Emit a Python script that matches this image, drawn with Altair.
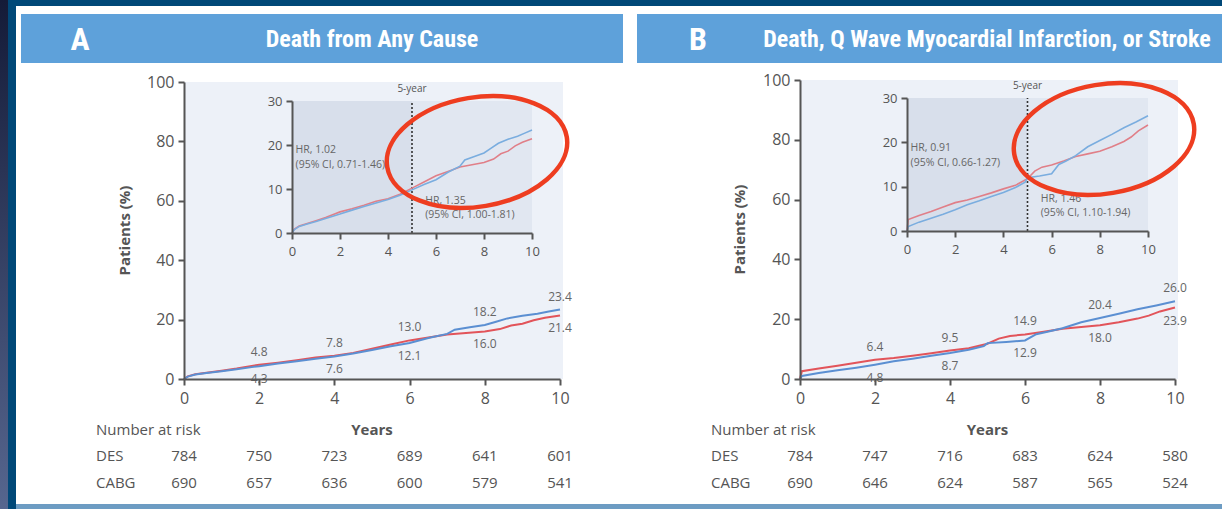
import altair as alt
import pandas as pd

W, H = 1222, 509
FONT = "Open Sans"
HEAD_FONT = "Roboto Condensed, Liberation Sans Narrow, DejaVu Sans Condensed, Roboto"
GREY = "#555555"
LABEL_GREY = "#666666"
NAVY = "#004878"
DES_COLOR = "#5b8fd2"
CABG_COLOR = "#e2545a"
DES_INSET = "#7aaddf"
CABG_INSET = "#e07f88"
RING = "#ee3d20"

# ---------------------------------------------------------------- data
years = [0, 2, 4, 6, 8, 10]

# Panel A: death from any cause, cumulative incidence (%)
a_des_t = [0, 0.1, 0.3, 0.6, 1.0, 1.4, 1.8, 2.0, 2.5, 3.0, 3.5, 4.0, 4.5, 5.0,
           5.5, 6.0, 6.5, 7.0, 7.2, 7.6, 8.0, 8.3, 8.6, 9.0, 9.4, 9.7, 10.0]
a_des_v = [0, 0.8, 1.5, 2.0, 2.6, 3.3, 4.0, 4.3, 5.2, 6.0, 6.8, 7.6, 8.6, 9.8,
           11.0, 12.1, 13.8, 15.2, 16.6, 17.4, 18.2, 19.3, 20.4, 21.3, 22.0, 22.7, 23.4]
a_cabg_t = [0, 0.1, 0.3, 0.6, 1.0, 1.4, 1.8, 2.0, 2.5, 3.0, 3.5, 4.0, 4.5, 5.0,
            5.5, 6.0, 6.5, 7.0, 7.5, 8.0, 8.4, 8.7, 9.0, 9.3, 9.6, 10.0]
a_cabg_v = [0, 0.9, 1.6, 2.1, 2.8, 3.5, 4.4, 4.8, 5.5, 6.3, 7.2, 7.8, 8.8, 10.2,
            11.6, 13.0, 14.0, 15.0, 15.5, 16.0, 16.8, 18.0, 18.6, 19.8, 20.6, 21.4]
a_label_years = [2, 4, 6, 8, 10]
a_des_labels = [4.3, 7.6, 12.1, 18.2, 23.4]
a_cabg_labels = [4.8, 7.8, 13.0, 16.0, 21.4]
a_des_risk = [784, 750, 723, 689, 641, 601]
a_cabg_risk = [690, 657, 636, 600, 579, 541]
a_hr_text = ["HR, 1.02", "(95% CI, 0.71-1.46)", "HR, 1.35", "(95% CI, 1.00-1.81)"]

# Panel B: death, Q wave MI or stroke, cumulative incidence (%)
b_des_t = [0, 0.05, 0.5, 1.0, 1.5, 2.0, 2.5, 3.0, 3.5, 4.0, 4.5, 4.9, 5.0, 5.5,
           6.0, 6.3, 6.6, 7.0, 7.5, 8.0, 8.5, 9.0, 9.5, 10.0]
b_des_v = [0, 1.0, 2.0, 2.9, 3.8, 4.8, 5.9, 6.8, 7.8, 8.7, 9.8, 11.0, 12.0, 12.4,
           12.9, 15.0, 15.8, 17.0, 19.0, 20.4, 21.8, 23.3, 24.6, 26.0]
b_cabg_t = [0, 0.05, 0.5, 1.0, 1.5, 2.0, 2.5, 3.0, 3.5, 4.0, 4.5, 5.0, 5.3, 5.6,
            6.0, 6.5, 7.0, 7.5, 8.0, 8.5, 9.0, 9.3, 9.6, 10.0]
b_cabg_v = [0, 2.6, 3.5, 4.4, 5.4, 6.4, 7.0, 7.8, 8.6, 9.5, 10.3, 11.8, 13.5, 14.4,
            14.9, 15.8, 16.8, 17.4, 18.0, 19.0, 20.2, 21.2, 22.6, 23.9]
b_label_years = [2, 4, 6, 8, 10]
b_des_labels = [4.8, 8.7, 12.9, 20.4, 26.0]
b_cabg_labels = [6.4, 9.5, 14.9, 18.0, 23.9]
b_des_risk = [784, 747, 716, 683, 624, 580]
b_cabg_risk = [690, 646, 624, 587, 565, 524]
b_hr_text = ["HR, 0.91", "(95% CI, 0.66-1.27)", "HR, 1.46", "(95% CI, 1.10-1.94)"]

# ---------------------------------------------------------------- layout
PANELS = [
    dict(letter="A", title="Death from Any Cause",
         des=(a_des_t, a_des_v), cabg=(a_cabg_t, a_cabg_v),
         labels=(a_label_years, a_des_labels, a_cabg_labels),
         risk=(a_des_risk, a_cabg_risk), hr=a_hr_text,
         bar=(21, 623), letter_x=80, title_x=372,
         main_x=(184, 560), main_y=(379, 82),
         inset_x=(292, 532), inset_y=(233, 101),
         ylab_x=125, text_x=96, ring=(477, 152)),
    dict(letter="B", title="Death, Q Wave Myocardial Infarction, or Stroke",
         des=(b_des_t, b_des_v), cabg=(b_cabg_t, b_cabg_v),
         labels=(b_label_years, b_des_labels, b_cabg_labels),
         risk=(b_des_risk, b_cabg_risk), hr=b_hr_text,
         bar=(637, 1222), letter_x=698, title_x=987,
         main_x=(800, 1175), main_y=(379, 80),
         inset_x=(907, 1148), inset_y=(231, 98),
         ylab_x=740, text_x=711, ring=(1104, 139)),
]
# anchor points (inset data units) of the hazard-ratio notes
HR_POS = [(0.15, 18.8), (0.15, 15.4), (5.55, 7.2), (5.55, 4.0)]

ONE = pd.DataFrame({"k": [0]})
ELLIPSE = "M-1,0 A1,0.6 0 1,1 1,0 A1,0.6 0 1,1 -1,0 Z"


def scale(domain, rng):
    return alt.Scale(domain=list(domain), range=list(rng), nice=False, zero=False)


def axis(**kw):
    base = dict(grid=False, domainColor=GREY, domainWidth=2, tickColor=GREY,
                tickWidth=2, labelColor=GREY, labelFont=FONT, title=None,
                zindex=1, labelFlush=False, labelOverlap=False, format="d")
    base.update(kw)
    return alt.Axis(**base)


def rect(x, x2, y, y2, **style):
    return alt.Chart(ONE).mark_rect(**style).encode(
        x=alt.value(x), x2=alt.value(x2), y=alt.value(y), y2=alt.value(y2))


def label(text, x, y, **style):
    return alt.Chart(ONE).mark_text(text=text, **style).encode(
        x=alt.value(x), y=alt.value(y))


layers = []

# page frame
layers.append(rect(0, 8, 0, H, fill=alt.LinearGradient(
    gradient="linear", x1=0, x2=0, y1=0, y2=1,
    stops=[alt.GradientStop(color="#141b38", offset=0),
           alt.GradientStop(color="#56668f", offset=1)])))
layers.append(rect(16, W, 6, 504, fill="white"))
layers.append(rect(16, W, 504, H, fill="#6d9cc3"))

for p in PANELS:
    mx, my = scale([0, 10], p["main_x"]), scale([0, 100], p["main_y"])
    ix, iy = scale([0, 10], p["inset_x"]), scale([0, 30], p["inset_y"])

    # header bar
    layers.append(rect(p["bar"][0], p["bar"][1], 14, 63, fill="#5ea1da"))
    layers.append(label(p["letter"], p["letter_x"], 40, font=HEAD_FONT, fontSize=32,
                        fontWeight="bold", color="white", baseline="middle"))
    layers.append(label(p["title"], p["title_x"], 40, font=HEAD_FONT, fontSize=24,
                        fontWeight="bold", color="white", baseline="middle"))

    # plot backgrounds
    layers.append(rect(p["main_x"][0], p["main_x"][1] + 3, p["main_y"][1],
                       p["main_y"][0], fill="#edf1f8"))
    bands = pd.DataFrame({"x0": [0, 5], "x1": [5, 10], "y0": [0, 0], "y1": [30, 30],
                          "shade": ["#d8dfeb", "#e1e7f1"]})
    layers.append(alt.Chart(bands).mark_rect().encode(
        x=alt.X("x0:Q", scale=ix, axis=None), x2="x1:Q",
        y=alt.Y("y0:Q", scale=iy, axis=None), y2="y1:Q",
        fill=alt.Fill("shade:N", scale=None)))

    # 5-year landmark in the inset
    five = pd.DataFrame({"t": [5], "lo": [0], "hi": [30]})
    layers.append(alt.Chart(five).mark_rule(color="#333333", strokeWidth=1.6,
                                            strokeDash=[2, 2]).encode(
        x=alt.X("t:Q", scale=ix, axis=None),
        y=alt.Y("lo:Q", scale=iy, axis=None), y2="hi:Q"))
    layers.append(alt.Chart(five).mark_text(text="5-year", font=FONT, fontSize=10,
                                            color=GREY, dy=-12).encode(
        x=alt.X("t:Q", scale=ix, axis=None), y=alt.Y("hi:Q", scale=iy, axis=None)))

    des = pd.DataFrame({"t": p["des"][0], "v": p["des"][1]})
    cabg = pd.DataFrame({"t": p["cabg"][0], "v": p["cabg"][1]})

    # main cumulative-incidence curves, with the main axes
    layers.append(alt.Chart(cabg).mark_line(color=CABG_COLOR, strokeWidth=2).encode(
        x=alt.X("t:Q", scale=mx, axis=None), y=alt.Y("v:Q", scale=my, axis=None)))
    layers.append(alt.Chart(des).mark_line(color=DES_COLOR, strokeWidth=2).encode(
        x=alt.X("t:Q", scale=mx, axis=axis(
            orient="bottom", offset=-(H - p["main_y"][0]), values=years, tickSize=6,
            labelFontSize=16, labelPadding=5)),
        y=alt.Y("v:Q", scale=my, axis=axis(
            orient="left", offset=-p["main_x"][0], values=[0, 20, 40, 60, 80, 100],
            tickSize=6, labelFontSize=16, labelPadding=4))))

    # inset curves on the 0-30 % scale, with the inset axes
    layers.append(alt.Chart(cabg).mark_line(color=CABG_INSET, strokeWidth=1.6).encode(
        x=alt.X("t:Q", scale=ix, axis=None), y=alt.Y("v:Q", scale=iy, axis=None)))
    layers.append(alt.Chart(des).mark_line(color=DES_INSET, strokeWidth=1.6).encode(
        x=alt.X("t:Q", scale=ix, axis=axis(
            orient="bottom", offset=-(H - p["inset_y"][0]), values=years, tickSize=6,
            labelFontSize=13, labelPadding=6)),
        y=alt.Y("v:Q", scale=iy, axis=axis(
            orient="left", offset=-p["inset_x"][0], values=[0, 10, 20, 30],
            tickSize=6, labelFontSize=13, labelPadding=4))))

    # hazard-ratio notes
    hr = pd.DataFrame({"txt": p["hr"], "x": [a for a, _ in HR_POS],
                       "y": [b for _, b in HR_POS]})
    layers.append(alt.Chart(hr).mark_text(align="left", baseline="middle", font=FONT,
                                          fontSize=10.5, color=LABEL_GREY).encode(
        x=alt.X("x:Q", scale=ix, axis=None), y=alt.Y("y:Q", scale=iy, axis=None),
        text="txt:N"))

    # cumulative rates printed at every second year
    ly, ld, lc = p["labels"]
    lab = pd.DataFrame({"t": ly, "des": ld, "cabg": lc})
    lab["hi"] = lab[["des", "cabg"]].max(axis=1)
    lab["lo"] = lab[["des", "cabg"]].min(axis=1)
    for col, dy in (("hi", -13), ("lo", 13)):
        layers.append(alt.Chart(lab).mark_text(font=FONT, fontSize=12, color=LABEL_GREY,
                                               dy=dy, baseline="middle").encode(
            x=alt.X("t:Q", scale=mx, axis=None), y=alt.Y(f"{col}:Q", scale=my, axis=None),
            text=alt.Text(f"{col}:Q", format=".1f")))

    # number at risk table
    layers.append(label("Number at risk", p["text_x"], 430, font=FONT, fontSize=15,
                        color=GREY, align="left", baseline="middle"))
    layers.append(label("Years", (p["main_x"][0] + p["main_x"][1]) / 2, 430, font=FONT,
                        fontSize=15, fontWeight="bold", color=GREY, baseline="middle"))
    layers.append(label("Patients (%)", p["ylab_x"], (p["main_y"][0] + p["main_y"][1]) / 2,
                        font=FONT, fontSize=15, fontWeight="bold", color=GREY,
                        angle=270, baseline="middle"))
    for name, counts, yy in (("DES", p["risk"][0], 456), ("CABG", p["risk"][1], 483)):
        layers.append(label(name, p["text_x"], yy, font=FONT, fontSize=15, color=GREY,
                            align="left", baseline="middle"))
        risk = pd.DataFrame({"t": years, "n": counts})
        layers.append(alt.Chart(risk).mark_text(font=FONT, fontSize=15, color=GREY,
                                                baseline="middle").encode(
            x=alt.X("t:Q", scale=mx, axis=None), y=alt.value(yy), text="n:Q"))

    # highlight ring around the late divergence
    layers.append(alt.Chart(ONE).mark_point(shape=ELLIPSE, size=182 ** 2, filled=False,
                                            stroke=RING, strokeWidth=4.5, opacity=1,
                                            angle=350.5).encode(
        x=alt.value(p["ring"][0]), y=alt.value(p["ring"][1])))

chart = alt.layer(*layers).resolve_scale(x="independent", y="independent").properties(
    width=W, height=H, padding=0, autosize="none", background=NAVY
).configure_view(stroke=None)

chart.save("out.html", embed_options={"renderer": "svg", "actions": False})
